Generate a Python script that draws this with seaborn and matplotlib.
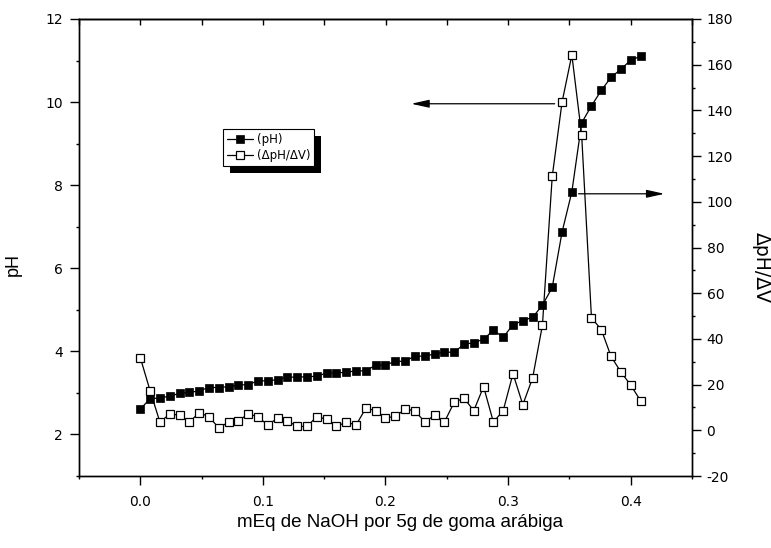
import numpy as np
import pandas as pd
import matplotlib
matplotlib.use("Agg")
import matplotlib.pyplot as plt
from matplotlib.ticker import MultipleLocator
from matplotlib.patches import Rectangle
import seaborn as sns

# ---- data ----
step = 0.008
naoh = [round(step * i, 3) for i in range(52)]
ph = [2.61, 2.86, 2.88, 2.92, 2.99, 3.01, 3.05, 3.13, 3.13, 3.15,
      3.19, 3.20, 3.29, 3.29, 3.32, 3.38, 3.38, 3.39, 3.40, 3.48,
      3.48, 3.50, 3.53, 3.53, 3.67, 3.67, 3.76, 3.76, 3.89, 3.88,
      3.94, 3.98, 3.98, 4.17, 4.21, 4.29, 4.51, 4.34, 4.64, 4.74,
      4.82, 5.11, 5.54, 6.87, 7.84, 9.50, 9.91, 10.28, 10.60, 10.79,
      11.01, 11.10]
dph_dv = [31.8, 17.3, 3.6, 7.1, 6.7, 3.6, 7.7, 6.0, 1.0, 3.6,
          4.2, 7.1, 6.0, 2.2, 5.4, 4.1, 1.7, 1.7, 6.0, 4.8,
          1.7, 3.6, 2.3, 9.7, 8.6, 5.4, 6.1, 9.2, 8.6, 3.6,
          6.6, 3.6, 12.2, 14.1, 8.6, 19.1, 3.6, 8.6, 24.8, 11.2,
          22.9, 46.0, 111.1, 143.6, 164.3, 129.2, 49.2, 44.1, 32.3, 25.5,
          19.8, 13.0]
series_labels = ["(pH)", "(\u0394pH/\u0394V)"]
x_label = "mEq de NaOH por 5g de goma ar\u00e1biga"
y_left_label = "pH"
y_right_label = "\u0394pH/\u0394V"

df = pd.DataFrame({"naoh": naoh, "ph": ph, "dph": dph_dv})

sns.set_style("white")
plt.rcParams["font.family"] = ["DejaVu Sans"]
plt.rcParams["text.color"] = "black"
plt.rcParams["axes.labelcolor"] = "black"
plt.rcParams["xtick.color"] = "black"
plt.rcParams["ytick.color"] = "black"
plt.rcParams["axes.unicode_minus"] = False

fig = plt.figure(figsize=(7.71, 5.48), dpi=100)
ax = fig.add_axes([79 / 771, 1 - 476 / 548, (692 - 79) / 771, (476 - 19) / 548])
ax2 = ax.twinx()

sns.lineplot(data=df, x="naoh", y="ph", ax=ax, color="black", lw=0.9,
             marker="s", markersize=6, markerfacecolor="black",
             markeredgecolor="black", markeredgewidth=0.5, label=series_labels[0], legend=False)
sns.lineplot(data=df, x="naoh", y="dph", ax=ax2, color="black", lw=0.9,
             marker="s", markersize=5.5, markerfacecolor="white",
             markeredgecolor="black", markeredgewidth=0.9, label=series_labels[1], legend=False)

ax.set_xlim(-0.05, 0.45)
ax.set_ylim(1, 12)
ax2.set_ylim(-20, 180)

ax.xaxis.set_minor_locator(MultipleLocator(0.05))
ax.set_xticks([0.0, 0.1, 0.2, 0.3, 0.4])
ax.set_xticklabels(["0.0", "0.1", "0.2", "0.3", "0.4"])
ax.yaxis.set_minor_locator(MultipleLocator(1))
ax.set_yticks([2, 4, 6, 8, 10, 12])
ax2.yaxis.set_major_locator(MultipleLocator(20))
ax2.yaxis.set_minor_locator(MultipleLocator(10))

for a in (ax, ax2):
    for s in a.spines.values():
        s.set_linewidth(1.0)
        s.set_color("black")

ax.tick_params(axis="both", which="major", direction="out", length=6.5, width=1.0,
               labelsize=10, colors="black", left=True, bottom=True, right=False, top=False)
ax.tick_params(axis="both", which="minor", direction="out", length=2.5, width=1.0,
               left=True, bottom=True, right=False, top=False)
ax.tick_params(axis="x", which="major", pad=7)
ax.tick_params(axis="y", which="major", pad=5)
ax2.tick_params(axis="y", which="major", direction="out", length=6.5, width=1.0,
                labelsize=10, colors="black", right=True, left=False, pad=4)
ax2.tick_params(axis="y", which="minor", direction="out", length=2.5, width=1.0,
                right=True, left=False)

top = ax.secondary_xaxis("top")
top.xaxis.set_major_locator(MultipleLocator(0.05))
top.tick_params(axis="x", which="major", direction="in", length=4, width=1.0, labeltop=False)
top.spines["top"].set_linewidth(1.0)

ax.set_xlabel(x_label, family=["Liberation Sans Narrow", "Liberation Sans"], fontsize=13.5,
              color="black")
ax.xaxis.set_label_coords(0.524, -0.083)
ax.set_ylabel(y_left_label, family=["Liberation Sans"], fontsize=13, color="black")
ax.yaxis.set_label_coords(-0.093, 0.463)
ax2.set_ylabel(y_right_label, fontsize=13.5, rotation=270, color="black")
ax2.yaxis.label.set_verticalalignment("bottom")
ax2.yaxis.set_label_coords(1.097, 0.456)

# arrows
ax.annotate("", xy=(0.221, 9.96), xytext=(0.338, 9.96),
            arrowprops=dict(arrowstyle="-|>,head_length=0.9,head_width=0.2", color="black",
                            lw=0.9, mutation_scale=12, shrinkA=0, shrinkB=0))
ax2.annotate("", xy=(0.4275, 103.5), xytext=(0.3575, 103.5),
             arrowprops=dict(arrowstyle="-|>,head_length=0.9,head_width=0.2", color="black",
                             lw=0.9, mutation_scale=12, shrinkA=0, shrinkB=0))

h1, l1 = ax.get_legend_handles_labels()
h2, l2 = ax2.get_legend_handles_labels()
leg = ax2.legend(h1 + h2, l1 + l2, loc="upper left", bbox_to_anchor=(0.235, 0.759),
                 borderaxespad=0, fontsize=8.5, frameon=True, fancybox=False, framealpha=1,
                 edgecolor="black", handlelength=2.2, handletextpad=0.4, borderpad=0.3,
                 labelspacing=0.3)
leg.get_frame().set_linewidth(0.8)

fig.canvas.draw()
bb = leg.get_window_extent().transformed(fig.transFigure.inverted())
off_x, off_y = 7 / 771, 7 / 548
shadow = Rectangle((bb.x0 + off_x, bb.y0 - off_y), bb.width, bb.height,
                   transform=fig.transFigure, facecolor="black", edgecolor="none",
                   zorder=4.9, clip_on=False)
ax2.add_artist(shadow)

fig.savefig("out.png", dpi=100)
